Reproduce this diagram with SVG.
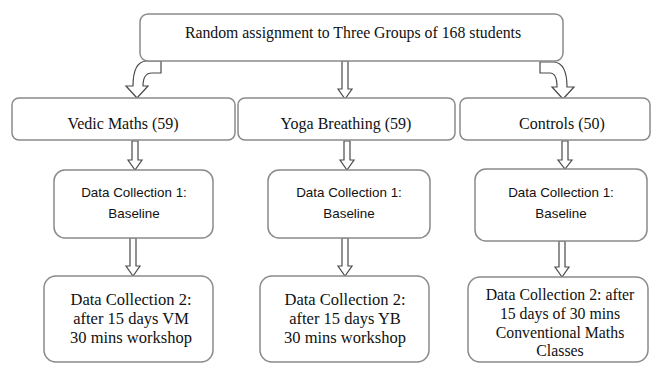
<svg xmlns="http://www.w3.org/2000/svg" width="653" height="365" viewBox="0 0 653 365">
<style>
.box{fill:#fff;stroke:#8a8a8a;stroke-width:1.5}
.arr{fill:#fff;stroke:#4a4a4a;stroke-width:1.2;stroke-linejoin:miter}
.serif{font-family:"Liberation Serif","Times New Roman",serif;fill:#111;text-anchor:middle}
.sans{font-family:"Liberation Sans",Arial,sans-serif;fill:#111;text-anchor:middle;font-size:13.4px}
</style>
<rect width="653" height="365" fill="#fff"/>
<g id="connectors">
<path class="arr" d="M161,61 L161,73 L152,73 Q143,73 143,86 L148,86 L137,98 L126,86 L133,86 Q133,62 146,61 Z"/>
<path class="arr" d="M342,61 L348,61 L348,89 L352,89 L345,99 L338,89 L342,89 Z"/>
<path class="arr" d="M540,62 L540,73 L550,73 Q557,73 557,87 L552,87 L563,99 L574,87 L567,87 Q567,63 554,62 Z"/>
<path class="arr" d="M132,141 L138,141 L138,160 L142,160 L135,170 L128,160 L132,160 Z"/>
<path class="arr" d="M344,141 L350,141 L350,160 L354,160 L347,170 L340,160 L344,160 Z"/>
<path class="arr" d="M562,141 L568,141 L568,160 L572,160 L565,169 L558,160 L562,160 Z"/>
<path class="arr" d="M130,238 L136,238 L136,266 L140,266 L133,276 L126,266 L130,266 Z"/>
<path class="arr" d="M342,238 L348,238 L348,266 L352,266 L345,276 L338,266 L342,266 Z"/>
<path class="arr" d="M559,241 L565,241 L565,267 L569,267 L562,277 L555,267 L559,267 Z"/>
</g>
<g id="top">
<rect class="box" x="140" y="14" width="423" height="47" rx="8"/>
<text class="serif" x="353" y="38" font-size="15.8">Random assignment to Three Groups of 168 students</text>
</g>
<g id="vedic">
<rect class="box" x="12" y="98" width="223" height="42" rx="7"/>
<text class="serif" x="123" y="129" font-size="16">Vedic Maths (59)</text>
</g>
<g id="yoga">
<rect class="box" x="238" y="98" width="217" height="42" rx="7"/>
<text class="serif" x="346" y="129" font-size="16">Yoga Breathing (59)</text>
</g>
<g id="controls">
<rect class="box" x="460" y="98" width="190" height="42" rx="7"/>
<text class="serif" x="562" y="129" font-size="16">Controls (50)</text>
</g>
<g id="vedic-dc1">
<rect class="box" x="54" y="170" width="159" height="68" rx="11"/>
<text class="sans" x="134" y="197">Data Collection 1:</text>
<text class="sans" x="134" y="218">Baseline</text>
</g>
<g id="yoga-dc1">
<rect class="box" x="268" y="170" width="162" height="68" rx="11"/>
<text class="sans" x="349" y="197">Data Collection 1:</text>
<text class="sans" x="349" y="218">Baseline</text>
</g>
<g id="controls-dc1">
<rect class="box" x="475" y="169" width="172" height="72" rx="11"/>
<text class="sans" x="561" y="197">Data Collection 1:</text>
<text class="sans" x="561" y="218">Baseline</text>
</g>
<g id="vedic-dc2">
<rect class="box" x="44" y="276" width="169" height="86" rx="12"/>
<text class="serif" x="131" y="305" font-size="16.5">Data Collection 2:</text>
<text class="serif" x="131" y="324" font-size="16.5">after 15 days VM</text>
<text class="serif" x="131" y="343" font-size="16.5">30 mins workshop</text>
</g>
<g id="yoga-dc2">
<rect class="box" x="260" y="276" width="169" height="86" rx="12"/>
<text class="serif" x="345" y="305" font-size="16.5">Data Collection 2:</text>
<text class="serif" x="345" y="324" font-size="16.5">after 15 days YB</text>
<text class="serif" x="345" y="343" font-size="16.5">30 mins workshop</text>
</g>
<g id="controls-dc2">
<rect class="box" x="468" y="277" width="180" height="85" rx="12"/>
<text class="serif" x="560" y="300" font-size="15.8">Data Collection 2: after</text>
<text class="serif" x="560" y="319" font-size="15.8">15 days of 30 mins</text>
<text class="serif" x="560" y="338" font-size="15.8">Conventional Maths</text>
<text class="serif" x="560" y="356" font-size="15.8">Classes</text>
</g>
</svg>
